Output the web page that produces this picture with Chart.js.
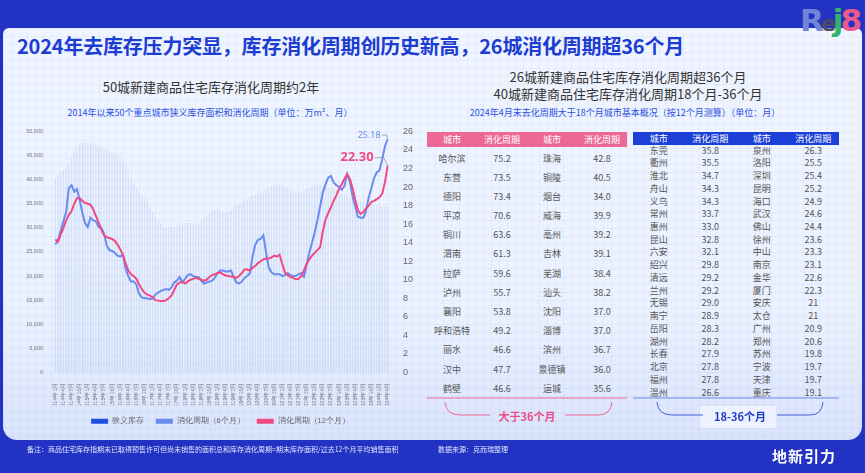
<!DOCTYPE html>
<html>
<head>
<meta charset="utf-8">
<script src="https://cdn.jsdelivr.net/npm/chart.js@4.4.0/dist/chart.umd.min.js"></script>
<style>
body{margin:0;width:865px;height:473px;overflow:hidden;background:#2232c2;font-family:"Noto Sans CJK SC","Noto Sans",sans-serif;position:relative}
.panel{position:absolute;left:3px;top:28px;width:859px;height:412px;border-radius:6px 6px 14px 14px;
  background-color:#edf3fe;
  background-image:linear-gradient(rgba(110,145,230,.08) 1px,transparent 1px),linear-gradient(90deg,rgba(110,145,230,.08) 1px,transparent 1px),linear-gradient(180deg,#f0f5ff 0%,#eaf1fe 70%,#d9e3fb 100%);
  background-size:8px 8px,8px 8px,100% 100%}
.abs{position:absolute;white-space:nowrap}
.title{left:17px;top:31px;font-size:20px;font-weight:bold;color:#1c3cd2;letter-spacing:-0.2px}
.h2{font-size:13px;color:#333;transform:translateX(-50%)}
.sub{font-size:9px;color:#2a50e2;transform:translateX(-50%)}
.hdr{position:absolute;display:flex;color:#fff;font-size:9px}
.hdr div,.row div{text-align:center}
.rows{position:absolute}
.row{display:flex;color:#555;font-size:9px}
.foot{font-size:7px;color:#dfe6ff}
#chartBox{position:absolute;left:18px;top:120px;width:405px;height:315px}
</style>
</head>
<body>
<div class="panel"></div>
<div class="abs title">2024年去库存压力突显，库存消化周期创历史新高，26城消化周期超36个月</div>
<div class="abs" style="left:800px;top:2px;font:bold 31px 'DejaVu Sans';letter-spacing:-3px"><span style="color:#6f86d8">R</span><span style="color:#4a4a6a;font-size:22px">e</span><span style="color:#35b36a">j</span><span style="color:#ec5a8c">8</span></div>

<div class="abs h2" style="left:211px;top:77px">50城新建商品住宅库存消化周期约2年</div>
<div class="abs sub" style="left:210px;top:106px">2014年以来50个重点城市狭义库存面积和消化周期（单位：万m²、月）</div>

<div class="abs h2" style="left:628px;top:67px">26城新建商品住宅库存消化周期超36个月</div>
<div class="abs h2" style="left:628px;top:84px">40城新建商品住宅库存消化周期18个月-36个月</div>
<div class="abs sub" style="left:625px;top:106px">2024年4月末去化周期大于18个月城市基本概况（按12个月测算）（单位：月）</div>

<div id="chartBox"><canvas id="cycleChart"></canvas></div>

<div class="hdr" id="pinkHdr" style="left:427px;top:132px;width:200px;height:15px;line-height:15px;background:#ee6896"></div>
<div class="rows" id="pinkRows" style="left:427px;top:148.5px;width:200px"></div>
<div class="hdr" id="blueHdr" style="left:633px;top:132px;width:206px;height:13px;line-height:13px;background:#1c3fd8"></div>
<div class="rows" id="blueRows" style="left:633px;top:144.6px;width:206px"></div>

<svg class="abs" style="left:0;top:0" width="865" height="473">
  <line x1="427" y1="398" x2="627" y2="398" stroke="#ee6896" stroke-width="1"/>
  <path d="M445 402 Q446 415 460 415 L490 415 M565 415 L598 415 Q611 415 612 402" fill="none" stroke="#ee6896" stroke-width="1"/>
  <line x1="633" y1="398" x2="839" y2="398" stroke="#6f86e6" stroke-width="1"/>
  <rect x="700" y="406" width="76" height="22" fill="#eef3fe" opacity="0.9"/>
  <path d="M657 402 Q658 415 672 415 L703 415 M777 415 L810 415 Q822 415 823 402" fill="none" stroke="#3f5fd8" stroke-width="1"/>
</svg>
<div class="abs" style="left:527px;top:408px;transform:translateX(-50%);font-size:11px;font-weight:bold;color:#ec4a85">大于36个月</div>
<div class="abs" style="left:740px;top:408px;transform:translateX(-50%);font-size:11px;font-weight:bold;color:#1c3cc8">18-36个月</div>

<div class="abs foot" style="left:27px;top:444px">备注：商品住宅库存指期末已取得预售许可但尚未销售的面积总和库存消化周期=期末库存面积/过去12个月平均销售面积</div>
<div class="abs foot" style="left:438px;top:444px">数据来源：克而瑞整理</div>
<div class="abs" style="left:772px;top:445px;font-size:15px;font-weight:bold;color:#fff;letter-spacing:1px">地新引力</div>

<script>
// 2014年1月 - 2024年4月，月度
const months = [];
for (let y = 2014; y <= 2024; y++) {
    for (let m = 1; m <= 12; m++) {
        if (y === 2024 && m > 4) break;
        months.push(y + '年' + m + '月');
    }
}

// 狭义库存（万m²）
const inventory = [
    40300, 41000, 41500, 42000, 42500, 43500, 44500, 45500, 46800, 47300, 47600, 47700,
    47600, 47500, 47400, 47200, 47000, 46800, 46500, 46300, 46000, 45700, 45400, 45100,
    44500, 43800, 43000, 42000, 40500, 39300, 38300, 37500, 36800, 36100, 35500, 34500,
    33300, 32300, 31500, 30800, 30100, 30000, 30100, 30200, 30300, 30500, 30700, 30900,
    31000, 31000, 30900, 30800, 30700, 31000, 31500, 32000, 32500, 33000, 33500, 33800,
    34000, 33600, 33300, 33200, 33300, 33800, 34300, 34600, 35000, 35300, 35700, 36000,
    36300, 36600, 36900, 37100, 37300, 37700, 38000, 38300, 38600, 38800, 39000, 39000,
    38800, 38500, 38200, 38000, 37700, 37500, 37300, 37300, 37800, 38100, 38300, 38600,
    38800, 39000, 39000, 38800, 38600, 38400, 38300, 38100, 37900, 37700, 37300, 37000,
    36600, 36300, 36100, 35900, 35700, 35600, 35400, 35200, 35000, 34900, 34800, 34700,
    34600, 34500, 34400, 34300
];

// 消化周期（6个月），月
const cycle6 = [
    13.8, 14.3, 15.3, 16.3, 17.3, 19.9, 20.2, 19.5, 19.8, 18.6, 17.2, 16.1,
    15.7, 16.7, 16.4, 16.3, 15.7, 15.6, 15.0, 13.7, 13.2, 13.1, 12.9, 12.6,
    12.5, 12.7, 11.2, 10.4, 9.8, 9.8, 9.5, 8.5, 8.1, 8.0, 8.0, 7.9,
    8.0, 8.4, 8.6, 8.8, 8.9, 9.0, 8.9, 9.2, 9.7, 9.9, 10.3, 9.7,
    10.1, 10.5, 10.6, 10.4, 10.3, 10.3, 9.9, 9.6, 9.7, 9.8, 9.9, 10.2,
    10.7, 11.0, 11.0, 10.9, 10.9, 11.0, 10.3, 9.7, 9.6, 9.8, 10.2, 10.4,
    10.7, 12.5, 13.8, 14.3, 14.4, 14.8, 12.9, 11.3, 10.8, 10.6, 10.6, 10.6,
    10.4, 10.5, 10.7, 10.5, 10.4, 10.4, 10.6, 10.7, 10.3, 11.6, 12.9, 14.0,
    15.1, 16.4, 17.9, 19.4, 20.3, 21.0, 21.2, 20.5, 20.2, 20.0, 19.7, 20.1,
    21.4, 20.6, 19.0, 17.9, 16.8, 16.7, 16.7, 17.4, 18.9, 19.9, 21.0, 21.6,
    21.8, 23.0, 24.4, 25.18
];

// 消化周期（12个月），月
const cycle12 = [
    14.35, 14.1, 14.9, 15.6, 16.4, 17.0, 17.4, 18.2, 18.8, 18.8, 18.5, 18.3,
    18.2, 18.1, 17.6, 16.9, 16.2, 15.4, 14.8, 14.6, 14.5, 14.4, 14.2, 13.8,
    13.3, 12.7, 11.8, 11.0, 10.6, 10.4, 10.1, 9.5, 9.0, 8.6, 8.4, 8.3,
    8.1, 7.8, 7.75, 7.7, 7.7, 7.8, 8.0, 8.3, 8.9, 9.5, 9.7, 9.8,
    9.6, 9.8, 10.0, 10.1, 10.2, 10.1, 10.0, 9.9, 10.0, 10.3, 10.5, 10.6,
    10.7, 10.8, 10.6, 10.45, 10.4, 10.35, 10.3, 10.2, 10.4, 10.7, 11.1, 11.1,
    11.0, 11.3, 11.5, 11.8, 12.0, 12.2, 12.3, 12.3, 12.4, 12.6, 12.5, 12.7,
    11.7, 10.8, 10.5, 10.3, 10.2, 10.05, 10.1, 10.4, 11.0, 11.7, 12.2, 12.6,
    12.9, 13.2, 13.5, 15.2, 16.5, 17.2, 17.8, 18.5, 19.1, 19.8, 20.3, 20.9,
    21.4, 20.9, 19.9, 18.6, 17.5, 17.1, 17.3, 17.7, 18.0, 18.4, 18.5, 18.7,
    18.9, 19.3, 20.5, 22.3
];

const leftTicks = [0, 5000, 10000, 15000, 20000, 25000, 30000, 35000, 40000, 45000, 50000];
const rightTicks = [0, 2, 4, 6, 8, 10, 12, 14, 16, 18, 20, 22, 24, 26];

// 大于36个月
const overCities1 = ['哈尔滨', '东营', '德阳', '平凉', '铜川', '渭南', '拉萨', '泸州', '襄阳', '呼和浩特', '丽水', '汉中', '鹤壁'];
const overValues1 = ['75.2', '73.5', '73.4', '70.6', '63.6', '61.3', '59.6', '55.7', '53.8', '49.2', '46.6', '47.7', '46.6'];
const overCities2 = ['珠海', '铜陵', '烟台', '威海', '亳州', '吉林', '芜湖', '汕头', '沈阳', '淄博', '滨州', '景德镇', '运城'];
const overValues2 = ['42.8', '40.5', '34.0', '39.9', '39.2', '39.1', '38.4', '38.2', '37.0', '37.0', '36.7', '36.0', '35.6'];

// 18-36个月
const midCities1 = ['东莞', '衢州', '淮北', '舟山', '义乌', '常州', '惠州', '昆山', '六安', '绍兴', '清远', '兰州', '无锡', '南宁', '岳阳', '湖州', '长春', '北京', '福州', '温州'];
const midValues1 = ['35.8', '35.5', '34.7', '34.3', '34.3', '33.7', '33.0', '32.8', '32.1', '29.8', '29.2', '29.2', '29.0', '28.9', '28.3', '28.2', '27.9', '27.8', '27.8', '26.6'];
const midCities2 = ['泉州', '洛阳', '深圳', '昆明', '海口', '武汉', '佛山', '徐州', '中山', '南京', '金华', '厦门', '安庆', '太仓', '广州', '郑州', '苏州', '宁波', '天津', '重庆'];
const midValues2 = ['26.3', '25.5', '25.4', '25.2', '24.9', '24.6', '24.4', '23.6', '23.3', '23.1', '22.6', '22.3', '21', '21', '20.9', '20.6', '19.8', '19.7', '19.7', '19.1'];

const headers = ['城市', '消化周期', '城市', '消化周期'];

function fillTable(hdrId, rowsId, cols, rowH) {
    const hdr = document.getElementById(hdrId);
    const w = hdr.offsetWidth / 4;
    headers.forEach(h => {
        const d = document.createElement('div');
        d.style.width = w + 'px';
        d.textContent = h;
        hdr.appendChild(d);
    });
    const rows = document.getElementById(rowsId);
    for (let i = 0; i < cols[0].length; i++) {
        const r = document.createElement('div');
        r.className = 'row';
        r.style.height = rowH + 'px';
        r.style.lineHeight = rowH + 'px';
        cols.forEach(c => {
            const d = document.createElement('div');
            d.style.width = w + 'px';
            d.textContent = c[i];
            r.appendChild(d);
        });
        rows.appendChild(r);
    }
}
fillTable('pinkHdr', 'pinkRows', [overCities1, overValues1, overCities2, overValues2], 19.2);
fillTable('blueHdr', 'blueRows', [midCities1, midValues1, midCities2, midValues2], 12.74);

const blueLine = '#6a8bf0';
const pinkLine = '#ef4b80';

// 末值标注
const endLabels = {
    id: 'endLabels',
    afterDatasetsDraw(chart) {
        const ctx = chart.ctx;
        const x = chart.scales.x;
        const y2 = chart.scales.y2;
        const last = months.length - 1;
        const px = x.getPixelForValue(last);
        const p6 = y2.getPixelForValue(cycle6[last]);
        const p12 = y2.getPixelForValue(cycle12[last]);
        ctx.save();
        ctx.strokeStyle = '#999';
        ctx.lineWidth = 0.8;
        ctx.beginPath();
        ctx.moveTo(px - 6, p6 - 4); ctx.lineTo(px - 1, p6 - 4); ctx.lineTo(px, p6);
        ctx.moveTo(px - 13, p12 - 8); ctx.lineTo(px - 4, p12 - 8); ctx.lineTo(px, p12);
        ctx.stroke();
        ctx.textAlign = 'right';
        ctx.textBaseline = 'middle';
        ctx.fillStyle = blueLine;
        ctx.font = '9px "Noto Sans"';
        ctx.fillText(cycle6[last].toFixed(2), px - 7, p6 - 4);
        ctx.fillStyle = pinkLine;
        ctx.font = 'bold 13px "Noto Sans"';
        ctx.fillText(cycle12[last].toFixed(2), px - 14, p12 - 8);
        ctx.restore();
    }
};

const cycleCtx = document.getElementById('cycleChart').getContext('2d');
const cycleChart = new Chart(cycleCtx, {
    type: 'bar',
    data: {
        labels: months,
        datasets: [{
            type: 'line',
            label: '消化周期（6个月）',
            data: cycle6,
            yAxisID: 'y2',
            borderColor: blueLine,
            backgroundColor: blueLine,
            borderWidth: 2,
            pointRadius: 0,
            order: 1
        }, {
            type: 'line',
            label: '消化周期（12个月）',
            data: cycle12,
            yAxisID: 'y2',
            borderColor: pinkLine,
            backgroundColor: pinkLine,
            borderWidth: 2,
            pointRadius: 0,
            order: 0
        }, {
            label: '狭义库存',
            data: inventory,
            yAxisID: 'y',
            backgroundColor: 'rgba(150,178,232,0.28)',
            barPercentage: 0.45,
            categoryPercentage: 1,
            order: 2
        }]
    },
    options: {
        animation: false,
        responsive: true,
        maintainAspectRatio: false,
        layout: { padding: { top: 9 } },
        plugins: {
            legend: {
                position: 'bottom',
                labels: {
                    boxWidth: 17,
                    boxHeight: 5,
                    padding: 12,
                    color: '#666',
                    font: { size: 7.5 },
                    sort: (a, b) => (a.datasetIndex === 2 ? -1 : b.datasetIndex === 2 ? 1 : a.datasetIndex - b.datasetIndex),
                    generateLabels(chart) {
                        return Chart.defaults.plugins.legend.labels.generateLabels(chart).map(l => {
                            const ds = chart.data.datasets[l.datasetIndex];
                            l.fillStyle = ds.type === 'line' ? ds.borderColor : '#1d4fe0';
                            l.lineWidth = 0;
                            return l;
                        });
                    }
                }
            },
            tooltip: { enabled: false }
        },
        scales: {
            x: {
                grid: { display: false },
                border: { display: false },
                ticks: {
                    autoSkip: false,
                    maxRotation: 90,
                    minRotation: 90,
                    padding: 2,
                    color: '#777',
                    font: { size: 5.5 },
                    callback: function (v, i) { return i % 3 === 0 ? months[i] : ''; }
                },
                afterFit: s => { s.height = 33; }
            },
            y: {
                position: 'left',
                min: 0,
                max: 50000,
                grid: { display: false },
                border: { display: false },
                afterBuildTicks: s => { s.ticks = leftTicks.map(v => ({ value: v })); },
                ticks: { color: '#777', font: { size: 5.5 }, padding: 3 },
                afterFit: s => { s.width = 36; }
            },
            y2: {
                position: 'right',
                min: 0,
                max: 26,
                grid: { display: false },
                border: { display: false },
                afterBuildTicks: s => { s.ticks = rightTicks.map(v => ({ value: v })); },
                ticks: { color: '#666', font: { size: 9 }, padding: 6 },
                afterFit: s => { s.width = 34; }
            }
        }
    },
    plugins: [endLabels]
});
</script>
</body>
</html>
